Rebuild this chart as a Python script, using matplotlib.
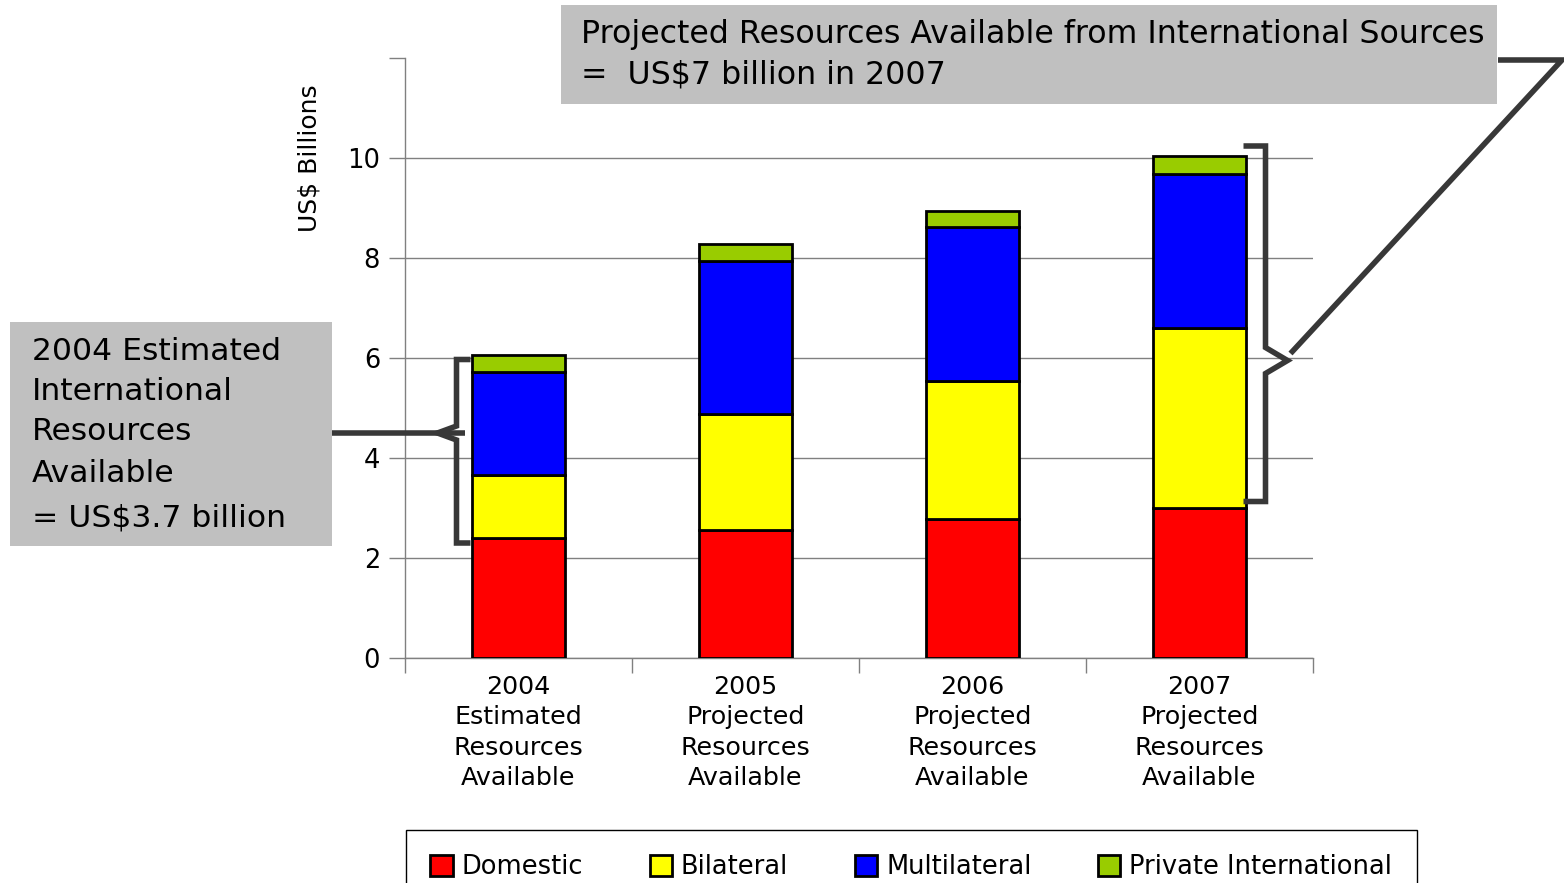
import matplotlib
matplotlib.use("Agg")
import matplotlib.pyplot as plt
import numpy as np
from matplotlib.lines import Line2D
from matplotlib.patches import Rectangle

plt.rcParams['font.family'] = ['DejaVu Sans']

# ---- data ----
categories = ["2004\nEstimated\nResources\nAvailable",
              "2005\nProjected\nResources\nAvailable",
              "2006\nProjected\nResources\nAvailable",
              "2007\nProjected\nResources\nAvailable"]
domestic = [2.40, 2.57, 2.79, 3.01]
bilateral = [1.27, 2.32, 2.76, 3.60]
multilateral = [2.06, 3.05, 3.07, 3.07]
private_intl = [0.34, 0.34, 0.32, 0.36]
series_names = ["Domestic", "Bilateral", "Multilateral", "Private International"]
series_colors = ["#FF0000", "#FFFF00", "#0000FF", "#99CC00"]
yticks = [0, 2, 4, 6, 8, 10, 12]
ytick_labels = ["0", "2", "4", "6", "8", "10", ""]

W, H = 1564, 883
fig = plt.figure(figsize=(W / 100, H / 100), dpi=100)
ax = fig.add_axes([405 / W, 1 - 658 / H, (1313 - 405) / W, 600 / H])

x = np.arange(len(categories))
bw = 0.41
bottom = np.zeros(len(categories))
handles = []
for vals, name, col in zip([domestic, bilateral, multilateral, private_intl], series_names, series_colors):
    b = ax.bar(x, vals, bw, bottom=bottom, color=col, edgecolor="black", linewidth=2, label=name, zorder=3)
    handles.append(b)
    bottom = bottom + np.array(vals)

ax.set_xlim(-0.5, len(categories) - 0.5)
ax.set_ylim(0, 12)
ax.set_yticks(yticks)
ax.set_yticklabels(ytick_labels, fontsize=18.5)
ax.tick_params(axis='y', length=11.5, width=1, color="#808080", pad=6.5)
ax.yaxis.grid(True, color="#808080", linewidth=1, zorder=0)
ax.get_ygridlines()[-1].set_visible(False)
ax.set_axisbelow(True)

ax.set_xticks(x)
ax.set_xticklabels(categories, fontsize=18.3, linespacing=1.34)
ax.set_xticks(np.arange(-0.5, len(categories)), minor=True)
ax.tick_params(axis='x', which='major', length=0, pad=12)
ax.tick_params(axis='x', which='minor', length=10.8, width=1, color="#808080")

for s in ["top", "right"]:
    ax.spines[s].set_visible(False)
for s in ["left", "bottom"]:
    ax.spines[s].set_color("#808080")
    ax.spines[s].set_linewidth(1)

ax.set_ylabel("US$ Billions", fontsize=18)
ax.yaxis.set_label_coords(-0.0925, 10 / 12)

# ---- legend (clipped at bottom like the reference) ----
leg = fig.legend(handles=handles, labels=series_names, loc="upper left",
                 bbox_to_anchor=(406 / W, 1 - 830 / H), ncol=4, fontsize=18.5,
                 frameon=True, fancybox=False, edgecolor="black", framealpha=1,
                 handlelength=0.86, handleheight=0.86, handletextpad=0.35,
                 columnspacing=2.6, borderpad=0.95, borderaxespad=0)
leg.get_frame().set_linewidth(1)

# ---- annotation boxes ----
def px(xp, yp):
    return xp / W, 1 - yp / H

fig.patches.append(Rectangle(px(10, 546), (332 - 10) / W, (546 - 322) / H,
                             transform=fig.transFigure, facecolor="#C0C0C0", edgecolor="none", zorder=5))
left_lines = ["2004 Estimated", "International", "Resources", "Available", "= US$3.7 billion"]
left_y = [352, 392, 432, 473, 518]
for t, yy in zip(left_lines, left_y):
    fig.text(*px(32, yy), t, fontsize=22.6, va="center", ha="left", zorder=6)

fig.patches.append(Rectangle(px(561, 104), (1497 - 561) / W, (104 - 5) / H,
                             transform=fig.transFigure, facecolor="#C0C0C0", edgecolor="none", zorder=5))
fig.text(*px(581, 35), "Projected Resources Available from International Sources",
         fontsize=22.8, va="center", ha="left", zorder=6)
fig.text(*px(581, 75), "=  US$7 billion in 2007", fontsize=22.8, va="center", ha="left", zorder=6)

# ---- brackets (display coords derived from data) ----
bc = "#383838"
lw = 4
totals = bottom
def to_disp(xd, yd):
    return ax.transData.transform((xd, yd))

def fig_line(xs, ys):
    fig.lines.append(Line2D(np.array(xs) / W, np.array(ys) / H, transform=fig.transFigure,
                            color=bc, linewidth=lw, solid_joinstyle="miter", solid_capstyle="butt", zorder=7))

# left bracket around 2004 international sources
xc, _ = to_disp(0, 0)
_, ytop = to_disp(0, totals[0])
_, ybot = to_disp(0, domestic[0])
_, ymid = to_disp(0, 4.5)
ytop -= 5; ybot -= 5
xv = xc - 62; xa = xc - 48; xt = xv - 19
fig_line([xa, xv, xv, xt, xv, xv, xa], [ytop, ytop, ymid + 7, ymid, ymid - 7, ybot, ybot])
fig_line([332, xc - 53], [ymid, ymid])

# right bracket around 2007 international sources
xc, _ = to_disp(3, 0)
_, ytop = to_disp(3, totals[3])
_, ybot = to_disp(3, domestic[3])
_, ymid = to_disp(3, 5.95)
ytop += 10; ybot += 6
xv = xc + 66; xa = xc + 44; xt = xv + 22
fig_line([xa, xv, xv, xt, xv, xv, xa], [ytop, ytop, ymid + 13, ymid, ymid - 13, ybot, ybot])
fig_line([xt + 3, W - 2, 1498], [ymid + 7, H - 60, H - 60])

fig.savefig("out.png", dpi=100)
